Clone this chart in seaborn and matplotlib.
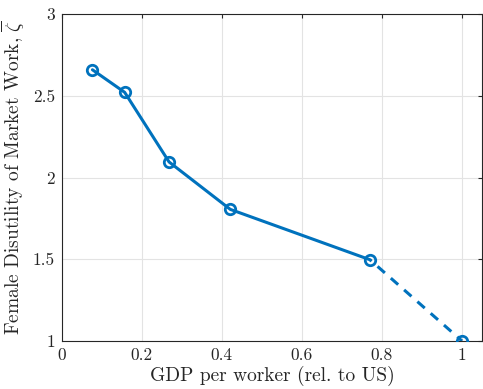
import matplotlib
matplotlib.use("Agg")
import matplotlib.pyplot as plt
import seaborn as sns
import pandas as pd

gdp = [0.0765, 0.157, 0.268, 0.421, 0.770]
zeta = [2.659, 2.521, 2.095, 1.805, 1.497]
gdp_us = [0.770, 1.0]
zeta_us = [1.497, 1.0]
xticks = [0, 0.2, 0.4, 0.6, 0.8, 1.0]
xticklabels = ["0", "0.2", "0.4", "0.6", "0.8", "1"]
yticks = [1, 1.5, 2, 2.5, 3]
yticklabels = ["1", "1.5", "2", "2.5", "3"]

sns.set_style("white")
plt.rcParams["font.family"] = "serif"
plt.rcParams["font.serif"] = ["cmr10"]
plt.rcParams["mathtext.fontset"] = "cm"
plt.rcParams["axes.unicode_minus"] = False

color = "#0072BD"
fig = plt.figure(figsize=(4.83, 3.89), dpi=100)
ax = fig.add_axes([0.128, 0.1234, 0.87, 0.8406])

df = pd.DataFrame({"x": gdp, "y": zeta})
df2 = pd.DataFrame({"x": gdp_us, "y": zeta_us})
sns.lineplot(data=df2, x="x", y="y", ax=ax, color=color, lw=2.2, linestyle=(2.5, (3.2, 2.6)), zorder=2)
sns.lineplot(data=df, x="x", y="y", ax=ax, color=color, lw=2.2, zorder=3)
ax.plot(gdp + [1.0], zeta + [1.0], linestyle="none", marker="o", ms=7.5, mfc="none",
        mec=color, mew=2.0, zorder=4)

ax.set_xlim(0, 1.05)
ax.set_ylim(1, 3)
ax.set_xticks(xticks)
ax.set_xticklabels(xticklabels)
ax.set_yticks(yticks)
ax.set_yticklabels(yticklabels)
ax.grid(True, color="#e3e3e3", lw=0.8)
ax.set_axisbelow(True)
for s in ax.spines.values():
    s.set_color("#262626")
    s.set_linewidth(0.8)
ax.tick_params(direction="in", length=3, top=True, right=True, labelsize=12.5,
               colors="#262626", pad=5)
ax.set_xlabel("GDP per worker (rel. to US)", fontsize=14, color="#262626", labelpad=2)
ax.set_ylabel(r"Female Disutility of Market Work, $\overline{\zeta}$", fontsize=14,
              color="#262626", labelpad=4)
fig.savefig("out.png", dpi=100)
